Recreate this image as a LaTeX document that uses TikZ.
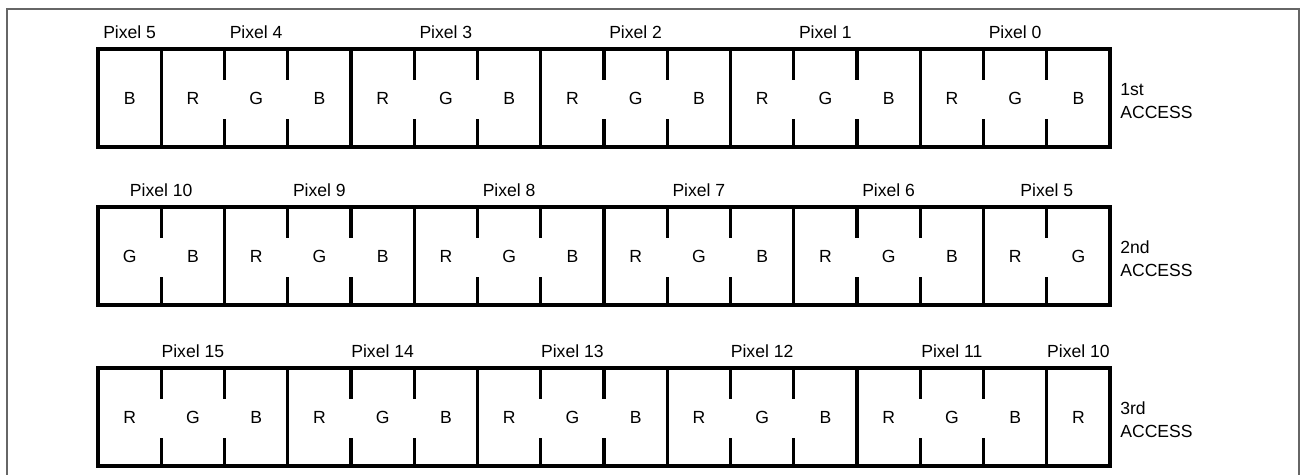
\documentclass[tikz,border=0pt]{standalone}
\usepackage{fontspec}
\setmainfont{Liberation Sans}
\usetikzlibrary{positioning}
\tikzset{
  wordbar/.style={line width=1.9pt},
  pixsep/.style={line width=1.9pt},
  subsep/.style={line width=1.9pt},
  chanlabel/.style={inner sep=0pt, font=\fontsize{10}{12}\selectfont},
  pixlabel/.style={inner sep=0pt, font=\fontsize{10}{12}\selectfont},
  accesslabel/.style={inner sep=0pt, anchor=west, align=left, font=\fontsize{10}{13}\selectfont},
  frameline/.style={draw=black!60, line width=1.1pt}
}

\begin{document}
\begin{tikzpicture}[x=0.02cm, y=-0.02cm]
\useasboundingbox (0,0) rectangle (1305,475);
\draw[frameline] (7,475) -- (7,9) -- (1299,9) -- (1299,475);

% one access word per row: 16 sub-cells, full bar where a pixel starts
\foreach \r/\rowtop/\s/\acc in {1/49/2/1st, 2/207/1/2nd, 3/368/0/3rd} {
  \pgfmathsetmacro{\rowbot}{\rowtop+98}
  \pgfmathsetmacro{\rowmid}{\rowtop+49}
  \draw[wordbar] (98,\rowtop) rectangle (1110,\rowbot);
  \foreach \i in {0,...,15} {
    \pgfmathtruncatemacro{\ch}{mod(\i+\s,3)}
    \pgfmathsetmacro{\cx}{98+63.25*(\i+0.5)}
    \node[chanlabel] (c\r-\i) at (\cx,\rowmid) {\ifcase\ch R\or G\or B\fi};
  }
  \foreach \i in {1,...,15} {
    \pgfmathtruncatemacro{\ch}{mod(\i+\s,3)}
    \pgfmathsetmacro{\bx}{98+63.25*\i}
    \ifnum\ch=0
      \draw[pixsep] (\bx,\rowtop) -- (\bx,\rowbot);
    \else
      \draw[subsep] (\bx,\rowtop) -- ++(0,31) (\bx,\rowbot) -- ++(0,-28);
    \fi
  }
  \node[accesslabel] (acc\r) at (1120,\rowmid+3) {\acc\\ACCESS};
}

% pixel names over their sub-cells
\foreach \r/\rowtop/\a/\b/\n in {
  1/49/0/1/5, 1/49/1/4/4, 1/49/4/7/3, 1/49/7/10/2, 1/49/10/13/1, 1/49/13/16/0,
  2/207/0/2/10, 2/207/2/5/9, 2/207/5/8/8, 2/207/8/11/7, 2/207/11/14/6, 2/207/14/16/5,
  3/368/0/3/15, 3/368/3/6/14, 3/368/6/9/13, 3/368/9/12/12, 3/368/12/15/11, 3/368/15/16/10} {
  \pgfmathsetmacro{\px}{98+63.25*(\a+\b)/2}
  \node[pixlabel] (px\r-\n) at (\px,\rowtop-17) {Pixel \n};
}
\end{tikzpicture}
\end{document}
